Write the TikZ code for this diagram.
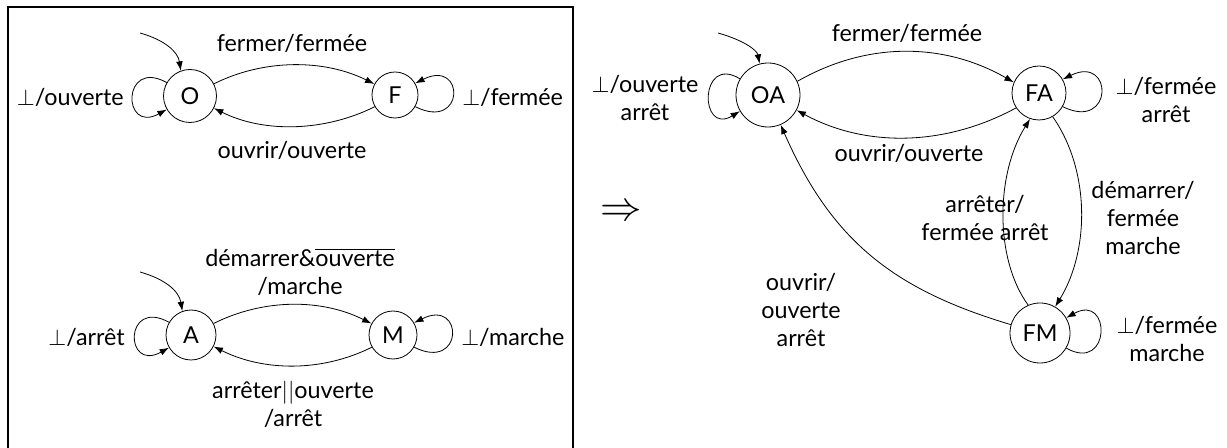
\documentclass[tikz,border=0pt]{standalone}
\usepackage{fontspec}
\setmainfont{Lato}
\usetikzlibrary{arrows.meta}
\begin{document}
\begin{tikzpicture}[x=0.75pt,y=-0.75pt,
  every node/.style={font=\fontsize{17.5pt}{21pt}\selectfont},
  state/.style={circle,draw,line width=0.6pt,inner sep=0pt},
  tr/.style={-{Latex[length=7pt,width=5pt]},line width=0.6pt},
  lbl/.style={align=center,inner sep=0pt}]
\useasboundingbox (0,0) rectangle (1227,448);
% frame around the two component machines
\node[draw,line width=1.5pt,minimum width=423.75pt,minimum height=333pt,inner sep=0pt,anchor=north west] (frame) at (7,6) {};

% door machine
\node[state,minimum size=39.75pt] (O) at (190,96) {O};
\node[state,minimum size=34.5pt] (F) at (395,95) {F};
\coordinate (iO) at (140,33);
\draw[tr] (iO) .. controls (165,40) and (178,52) .. (O.110);
\draw[tr] (O.150) .. controls +(-45,-25) and +(-45,25) .. (O.210);
\draw[tr] (F.-30) .. controls +(50,25) and +(50,-25) .. (F.30);
\draw[tr] (O.27) .. controls +(50,-25) and +(-50,-25) .. (F.152);
\draw[tr] (F.-150) .. controls +(-50,25) and +(50,25) .. (O.-27);
\node[lbl,anchor=east] (lO) at (124,97) {$\perp$/ouverte};
\node[lbl,anchor=west] (lF) at (462,97) {$\perp$/fermée};
\node[lbl] (lOF) at (292,43) {fermer/fermée};
\node[lbl] (lFO) at (292,150) {ouvrir/ouverte};

% motor machine
\node[state,minimum size=37.5pt] (A) at (191,335) {A};
\node[state,minimum size=36pt] (M) at (393,335) {M};
\coordinate (iA) at (140,272);
\draw[tr] (iA) .. controls (165,279) and (179,291) .. (A.110);
\draw[tr] (A.150) .. controls +(-45,-25) and +(-45,25) .. (A.210);
\draw[tr] (M.-30) .. controls +(50,25) and +(50,-25) .. (M.30);
\draw[tr] (A.27) .. controls +(50,-25) and +(-50,-25) .. (M.152);
\draw[tr] (M.-150) .. controls +(-50,25) and +(50,25) .. (A.-27);
\node[lbl,anchor=east] (lA) at (125,337) {$\perp$/arrêt};
\node[lbl,anchor=west] (lM) at (461,337) {$\perp$/marche};
\node[lbl] (lAM) at (300,272) {démarrer\&$\overline{\mbox{ouverte}}$\\/marche};
\node[lbl] (lMA) at (293,404) {arrêter$||$ouverte\\/arrêt};

% product machine
\node[scale=1.8] (impl) at (621,213) {$\Rightarrow$};

\node[state,minimum size=48pt] (OA) at (768,95) {OA};
\node[state,minimum size=40.5pt] (FA) at (1039,93) {FA};
\node[state,minimum size=45pt] (FM) at (1040,333) {FM};
\coordinate (iOA) at (718,33);
\draw[tr] (iOA) .. controls (743,40) and (757,50) .. (OA.105);
\draw[tr] (OA.150) .. controls +(-41,-25) and +(-41,25) .. (OA.210);
\draw[tr] (FA.-30) .. controls +(51,25) and +(51,-25) .. (FA.30);
\draw[tr] (FM.-30) .. controls +(45,25) and +(45,-25) .. (FM.30);
\draw[tr] (OA.25) .. controls +(70,-40) and +(-70,-40) .. (FA.157);
\draw[tr] (FA.-147) .. controls +(-70,38) and +(70,38) .. (OA.-28);
\draw[tr] (FA.-60) .. controls (1090,170) and (1090,250) .. (FM.60);
\draw[tr] (FM.113) .. controls (995,260) and (995,175) .. (FA.-109);
\draw[tr] (FM.164) .. controls (895,290) and (832,242) .. (OA.-67);
\node[lbl] (lOA) at (645,98) {$\perp$/ouverte\\arrêt};
\node[lbl] (lFA) at (1166,100) {$\perp$/fermée\\arrêt};
\node[lbl] (lFM) at (1167,339) {$\perp$/fermée\\marche};
\node[lbl] (lOAFA) at (907,33) {fermer/fermée};
\node[lbl] (lFAOA) at (909,153) {ouvrir/ouverte};
\node[lbl] (lFAFM) at (1143,218) {démarrer/\\fermée\\marche};
\node[lbl] (lFMFA) at (985,218) {arrêter/\\fermée arrêt};
\node[lbl] (lFMOA) at (801,310) {ouvrir/\\ouverte\\arrêt};
\end{tikzpicture}
\end{document}
